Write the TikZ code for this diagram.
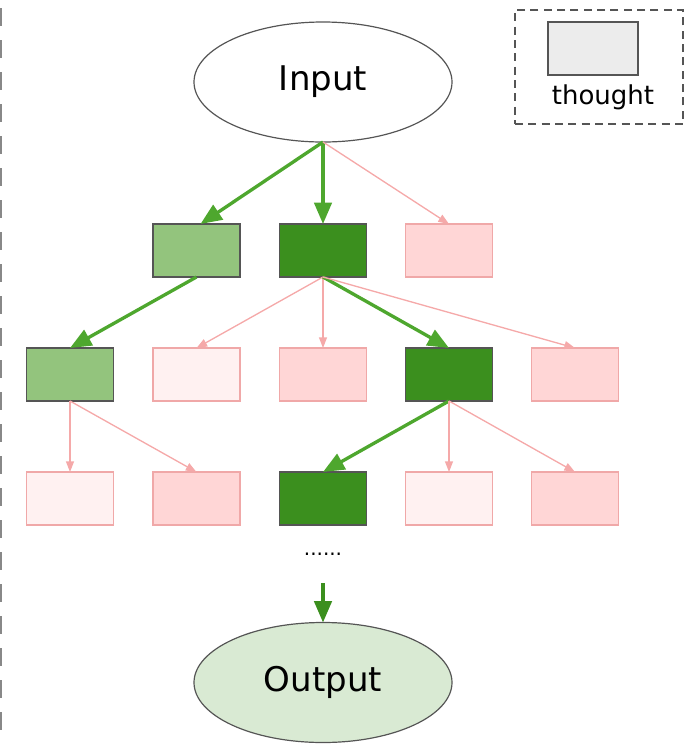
\documentclass[tikz,border=0pt]{standalone}
\usepackage{fontspec}
\setmainfont{DejaVu Sans}
\usetikzlibrary{arrows.meta,shapes.geometric}
\definecolor{lgreen}{HTML}{93C47D}
\definecolor{dgreen}{HTML}{3B8F1E}
\definecolor{gborder}{HTML}{555555}
\definecolor{pinkfill}{HTML}{FFD6D6}
\definecolor{palepink}{HTML}{FFF1F1}
\definecolor{pinkborder}{HTML}{F0A8A8}
\definecolor{arrgreen}{HTML}{4EA72E}
\definecolor{arrpink}{HTML}{F5A9A9}
\definecolor{outfill}{HTML}{D9EAD3}
\definecolor{legfill}{HTML}{ECECEC}
\tikzset{
  box/.style={rectangle, minimum width=65.25pt, minimum height=39.75pt, inner sep=0pt, outer sep=0pt, line width=1.1pt},
  lgbox/.style={box, fill=lgreen, draw=gborder},
  dgbox/.style={box, fill=dgreen, draw=gborder},
  pkbox/.style={box, fill=pinkfill, draw=pinkborder},
  ppbox/.style={box, fill=palepink, draw=pinkborder},
  oval/.style={ellipse, minimum width=193.5pt, minimum height=90pt, inner sep=0pt, outer sep=0pt, line width=0.9pt, draw=gborder, font=\fontsize{25.5pt}{30pt}\selectfont},
  garrow/.style={draw=arrgreen, line width=2.5pt, -{Triangle[length=16pt,width=13pt]}},
  parrow/.style={draw=arrpink, line width=1pt, -{Triangle[length=8pt,width=6pt]}},
}
\begin{document}
\begin{tikzpicture}[x=0.75pt,y=-0.75pt]
\useasboundingbox (0,0) rectangle (695,744);
% left dashed edge
\draw[gborder!70, line width=1.2pt, dash pattern=on 13.5pt off 10.5pt] (0.8,8) -- (0.8,744);
% legend
\node[draw=gborder, line width=1.1pt, dash pattern=on 6pt off 4pt, rectangle, minimum width=126pt, minimum height=85.5pt, inner sep=0pt] (leg) at (599,67) {};
\node[rectangle, fill=legfill, draw=gborder, line width=1.2pt, minimum width=67.5pt, minimum height=39.75pt, inner sep=0pt] (legbox) at (593,48.5) {};
\node[font=\fontsize{19.5pt}{23pt}\selectfont, inner sep=0pt] (legtxt) at (603,97) {thought};
% ellipses
\node[oval, fill=white] (in) at (323,82) {Input};
\node[oval, fill=outfill] (out) at (323,682.5) {Output};
% row 1
\node[lgbox] (a1) at (196.5,250.5) {};
\node[dgbox] (a2) at (323,250.5) {};
\node[pkbox] (a3) at (449,250.5) {};
% row 2
\node[lgbox] (b1) at (70,374.5) {};
\node[ppbox] (b2) at (196.5,374.5) {};
\node[pkbox] (b3) at (323,374.5) {};
\node[dgbox] (b4) at (449,374.5) {};
\node[pkbox] (b5) at (575,374.5) {};
% row 3
\node[ppbox] (c1) at (70,498.5) {};
\node[pkbox] (c2) at (196.5,498.5) {};
\node[dgbox] (c3) at (323,498.5) {};
\node[ppbox] (c4) at (449,498.5) {};
\node[pkbox] (c5) at (575,498.5) {};
% dots
\node[font=\fontsize{15pt}{18pt}\selectfont, inner sep=0pt] (dots) at (323,554) {......};
\coordinate (s) at (323,583);
% edges
\draw[garrow] (in.south) -- ([xshift=3pt]a1.north);
\draw[garrow] (in.south) -- (a2.north);
\draw[parrow] (in.south) -- (a3.north);
\draw[garrow] (a1.south) -- (b1.north);
\draw[parrow] (a2.south) -- (b2.north);
\draw[parrow] (a2.south) -- (b3.north);
\draw[garrow] (a2.south) -- (b4.north);
\draw[parrow] (a2.south) -- (b5.north);
\draw[parrow] (b1.south) -- (c1.north);
\draw[parrow] (b1.south) -- (c2.north);
\draw[garrow] (b4.south) -- (c3.north);
\draw[parrow] (b4.south) -- (c4.north);
\draw[parrow] (b4.south) -- (c5.north);
\draw[garrow, draw=dgreen] (s) -- (out.north);
\end{tikzpicture}
\end{document}
